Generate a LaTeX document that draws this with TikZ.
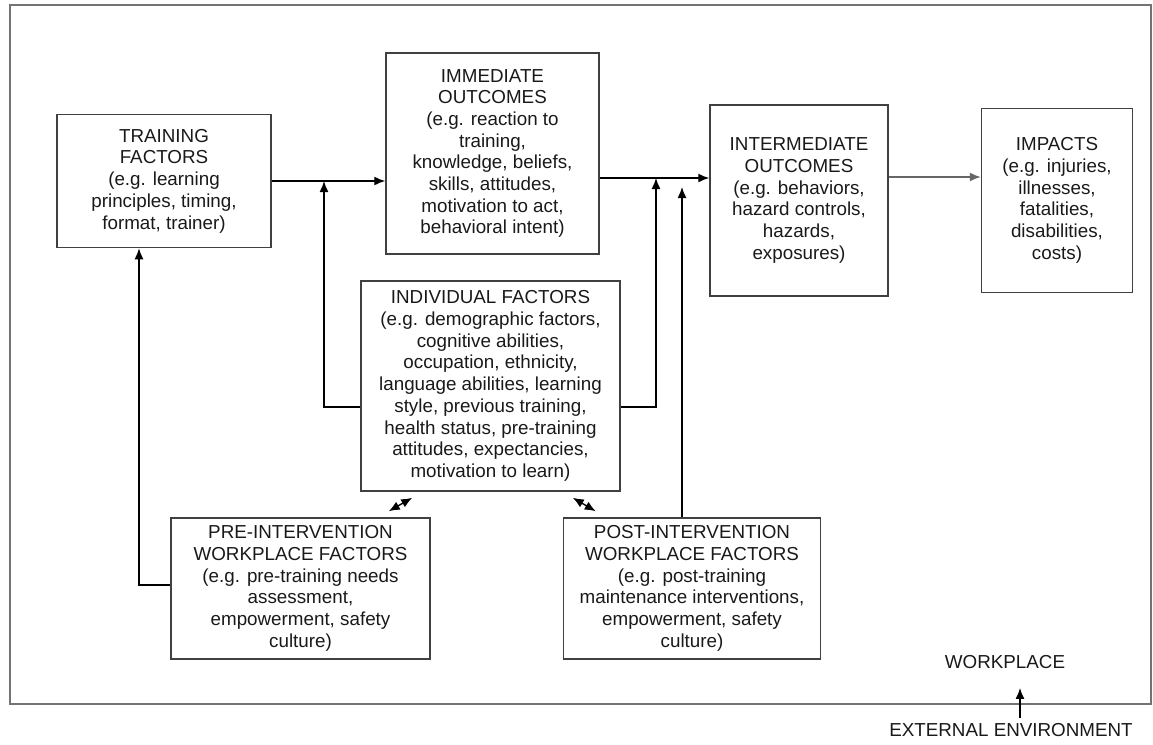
\documentclass[tikz,border=0pt]{standalone}
\usepackage{fontspec}
\setmainfont{Liberation Sans}
\usepackage{tikz}
\usetikzlibrary{positioning,arrows.meta}

\begin{document}
\begin{tikzpicture}[>={Latex[length=5.5pt,width=4.5pt]},
                    factor/.style={draw=black!75, line width=0.75pt, align=center,
                                   inner sep=1pt, text=black!90,
                                   font=\fontsize{9.4}{10.85}\selectfont},
                    tag/.style={inner sep=0pt, text=black!90,
                                font=\fontsize{9.4}{10.85}\selectfont},
                    link/.style={draw=black, line width=0.7pt},
                    frame/.style={draw=black!55, line width=0.8pt}]
\useasboundingbox (0,0) rectangle (576.5pt,-372.5pt);
\draw[frame] (5pt,-2.5pt) rectangle (575.5pt,-352pt);
% boxes
\node[factor, minimum width=107pt, minimum height=66.5pt] (training) at (82pt,-90.5pt)
  {TRAINING\\ FACTORS\\ (e.g. learning\\ principles, timing,\\ format, trainer)};
\node[factor, minimum width=106.5pt, minimum height=100.5pt] (immediate) at (246.25pt,-76.75pt)
  {IMMEDIATE\\ OUTCOMES\\ (e.g. reaction to\\ training,\\ knowledge, beliefs,\\ skills, attitudes,\\ motivation to act,\\ behavioral intent)};
\node[factor, minimum width=89pt, minimum height=95.5pt] (intermediate) at (399.5pt,-100.25pt)
  {INTERMEDIATE\\ OUTCOMES\\ (e.g. behaviors,\\ hazard controls,\\ hazards,\\ exposures)};
\node[factor, minimum width=75.5pt, minimum height=92pt, right=46pt of intermediate] (impacts)
  {IMPACTS\\ (e.g. injuries,\\ illnesses,\\ fatalities,\\ disabilities,\\ costs)};
\node[factor, minimum width=129.5pt, minimum height=105pt] (individual) at (245.25pt,-193pt)
  {INDIVIDUAL FACTORS\\ (e.g. demographic factors,\\ cognitive abilities,\\ occupation, ethnicity,\\ language abilities, learning\\ style, previous training,\\ health status, pre-training\\ attitudes, expectancies,\\ motivation to learn)};
\node[factor, minimum width=129.5pt, minimum height=70.5pt] (pre) at (150.25pt,-294.25pt)
  {PRE-INTERVENTION\\ WORKPLACE FACTORS\\ (e.g. pre-training needs\\ assessment,\\ empowerment, safety\\ culture)};
\node[factor, minimum width=128.5pt, minimum height=70.5pt, right=66pt of pre] (post)
  {POST-INTERVENTION\\ WORKPLACE FACTORS\\ (e.g. post-training\\ maintenance interventions,\\ empowerment, safety\\ culture)};
\node[tag] (workplace) at (502.5pt,-331pt) {WORKPLACE};
\node[tag] (env) at (505.5pt,-365pt) {EXTERNAL ENVIRONMENT};
% joins on the main line
\coordinate (joinA) at (162pt,-90.5pt);
\coordinate (joinB) at (328pt,-89pt);
\coordinate (joinC) at (341pt,-93.5pt);
% connectors
\draw[link, ->] (training) -- (immediate.west |- training);
\draw[link, ->] ([yshift=-12.25pt]immediate.east) -- ([yshift=-12.25pt]immediate.east -| intermediate.west);
\draw[link, draw=black!60, ->] ([yshift=11.75pt]intermediate.east) -- ([yshift=11.75pt]intermediate.east -| impacts.west);
\draw[link, ->] ([yshift=-10.5pt]individual.west) -| (joinA);
\draw[link, ->] ([yshift=-10.5pt]individual.east) -| (joinB);
\draw[link, ->] (post.north -| joinC) -- (joinC);
\draw[link, ->] ([yshift=1.75pt]pre.west) -| ([xshift=-12.5pt]training.south);
\draw[link, <->] ([shift={(-21pt,3pt)}]pre.north east) -- ([shift={(26pt,-3pt)}]individual.south west);
\draw[link, <->] ([shift={(16.5pt,3pt)}]post.north west) -- ([shift={(-24pt,-3pt)}]individual.south east);
\draw[link, ->] ([shift={(4.5pt,2.5pt)}]env.north) -- ++(0,15pt);
\end{tikzpicture}
\end{document}
